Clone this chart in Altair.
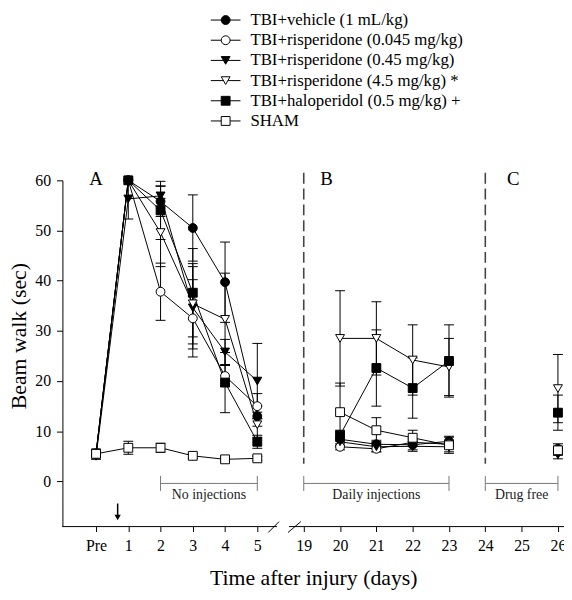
import altair as alt
import pandas as pd

# ---------------- data ----------------
series = [
    "TBI+vehicle (1 mL/kg)",
    "TBI+risperidone (0.045 mg/kg)",
    "TBI+risperidone (0.45 mg/kg)",
    "TBI+risperidone (4.5 mg/kg) *",
    "TBI+haloperidol  (0.5 mg/kg) +",
    "SHAM",
]
shapes = ["circle", "circle", "triangle-down", "triangle-down", "square", "square"]
fills = ["black", "white", "black", "white", "black", "white"]

days = ["Pre", "1", "2", "3", "4", "5", "20", "21", "22", "23", "26"]
tick_days = ["Pre", "1", "2", "3", "4", "5", "19", "20", "21", "22", "23", "24", "25", "26"]

vehicle_mean = [5.5, 60.0, 55.8, 50.5, 39.7, 13.0, 8.4, 7.4, 7.3, 8.0, 6.5]
vehicle_sem = [0.6, 0.0, 3.0, 6.6, 8.0, 2.0, 1.2, 0.8, 1.0, 1.0, 1.0]
ris0045_mean = [5.6, 60.0, 37.8, 32.5, 21.0, 15.0, 6.9, 6.5, 7.8, 7.4, 6.0]
ris0045_sem = [0.6, 0.0, 5.7, 7.7, 2.1, 2.5, 0.6, 0.6, 0.8, 0.8, 0.8]
ris045_mean = [5.0, 56.3, 56.9, 34.6, 25.8, 20.0, 7.9, 6.9, 7.0, 6.9, 5.3]
ris045_sem = [0.6, 4.0, 2.0, 8.2, 2.5, 7.5, 1.0, 1.0, 1.0, 1.0, 0.8]
ris45_mean = [5.5, 60.0, 49.6, 35.4, 32.3, 11.3, 28.5, 28.5, 24.2, 22.8, 18.5]
ris45_sem = [0.6, 0.0, 6.8, 8.0, 9.2, 2.5, 9.5, 7.3, 7.0, 5.7, 6.8]
halo_mean = [5.6, 60.0, 54.0, 37.6, 19.7, 7.9, 9.2, 22.6, 18.6, 24.0, 13.7]
halo_sem = [0.6, 0.0, 5.8, 8.8, 6.0, 1.3, 1.0, 7.6, 6.0, 7.2, 3.5]
sham_mean = [5.5, 6.7, 6.7, 5.1, 4.4, 4.6, 13.8, 10.2, 8.7, 7.2, 6.2]
sham_sem = [0.8, 1.3, 0.9, 0.5, 0.4, 0.4, 5.8, 2.5, 1.5, 1.6, 0.8]

means = [vehicle_mean, ris0045_mean, ris045_mean, ris45_mean, halo_mean, sham_mean]
sems = [vehicle_sem, ris0045_sem, ris045_sem, ris45_sem, halo_sem, sham_sem]

phase_labels = ["No injections", "Daily injections", "Drug free"]
phase_start = ["2", "19", "24"]
phase_end = ["5", "23", "26"]
panel_labels = ["A", "B", "C"]

# ---------------- layout helpers (broken axis) ----------------
SEG2_START = 6.44   # position of day 19
SEG2_STEP = 1.126   # width of one day in second segment


def pos(label):
    if label == "Pre":
        return 0.0
    d = int(label)
    if d <= 5:
        return float(d)
    return SEG2_START + (d - 19) * SEG2_STEP


def segment(label):
    if label == "Pre":
        return "A"
    d = int(label)
    return "A" if d <= 5 else ("B" if d <= 23 else "C")


X_MIN, X_MAX = -1.043, 14.51
Y_MIN, Y_MAX = -9, 60
W, H = 507, 350
PX_X = W / (X_MAX - X_MIN)
PX_Y = H / (Y_MAX - Y_MIN)


def px_to_x(off):  # offset in px from plot left
    return X_MIN + off / PX_X


def px_to_y(off):  # offset in px from plot top
    return Y_MAX - off / PX_Y


rows = []
for name, m_list, s_list in zip(series, means, sems):
    for d, m, s in zip(days, m_list, s_list):
        rows.append(dict(series=name, x=pos(d), y=m, lo=m - s, hi=m + s, err=s, seg=segment(d)))
df = pd.DataFrame(rows)
df_err = df[df.err > 0].copy()

label_expr = (
    "datum.value < 0.5 ? 'Pre' : datum.value < 5.5 ? format(datum.value, 'd') : "
    f"format(round((datum.value - {SEG2_START}) / {SEG2_STEP}) + 19, 'd')"
)

xs = alt.Scale(domain=[X_MIN, X_MAX], nice=False, zero=False)
ys = alt.Scale(domain=[Y_MIN, Y_MAX], nice=False, zero=False)
x_axis = alt.Axis(
    values=[pos(d) for d in tick_days], labelExpr=label_expr, domain=False, grid=False,
    tickSize=5, labelPadding=6, labelFontSize=16, titleFontSize=22, titlePadding=15,
    labelOverlap=False, labelFlush=False, title="Time after injury (days)",
)
y_axis = alt.Axis(
    values=[0, 10, 20, 30, 40, 50, 60], grid=False, tickSize=6, labelPadding=6,
    labelFontSize=16, titleFontSize=22, titlePadding=4, labelFlush=False,
    title="Beam walk (sec)", titleY=157,
)
X = alt.X("x:Q", scale=xs, axis=x_axis)
Y = alt.Y("y:Q", scale=ys, axis=y_axis)

shape_enc = alt.Shape("series:N", scale=alt.Scale(domain=series, range=shapes), legend=None)
fill_enc = alt.Fill("series:N", scale=alt.Scale(domain=series, range=fills), legend=None)

lines = alt.Chart(df).mark_line(color="black", strokeWidth=1).encode(
    x=X, y=Y, detail=["series:N", "seg:N"]
)
err_rule = alt.Chart(df_err).transform_calculate(y="datum.lo").mark_rule(
    color="black", strokeWidth=1
).encode(x=X, y=Y, y2="hi:Q")
cap_lo = alt.Chart(df_err).transform_calculate(y="datum.lo").mark_tick(
    orient="horizontal", size=10, thickness=1, color="black", opacity=1
).encode(x=X, y=Y)
cap_hi = alt.Chart(df_err).transform_calculate(y="datum.hi").mark_tick(
    orient="horizontal", size=10, thickness=1, color="black", opacity=1
).encode(x=X, y=Y)
points = alt.Chart(df).mark_point(
    filled=True, size=80, stroke="black", strokeWidth=1, opacity=1
).encode(x=X, y=Y, shape=shape_enc, fill=fill_enc)

# ---------------- legend (drawn above the plot) ----------------
leg_rows = []
for i, name in enumerate(series):
    yy = px_to_y(17 + 20.4 * i - 179)
    leg_rows.append(dict(series=name, y=yy, x=px_to_x(213 - 63), x2=px_to_x(243 - 63),
                         xm=px_to_x(228 - 63), xt=px_to_x(253 - 63)))
leg = pd.DataFrame(leg_rows)
leg_line = alt.Chart(leg).mark_rule(color="black", strokeWidth=1).encode(x=X, x2="x2:Q", y=Y)
leg_pt = alt.Chart(leg).transform_calculate(x="datum.xm").mark_point(
    filled=True, size=80, stroke="black", strokeWidth=1, opacity=1
).encode(x=X, y=Y, shape=shape_enc, fill=fill_enc)
leg_txt = alt.Chart(leg).transform_calculate(x="datum.xt").mark_text(
    align="left", baseline="middle", fontSize=17, font="Liberation Serif", color="black"
).encode(x=X, y=Y, text="series:N")

# ---------------- annotations ----------------
dash_df = pd.DataFrame(dict(x=[pos("19"), pos("24")], y=[61.5, 61.5], y2=[3.5, 3.5]))
dashes = alt.Chart(dash_df).mark_rule(color="#444", strokeWidth=1.6, strokeDash=[11, 5]).encode(
    x=X, y=Y, y2="y2:Q"
)

br = pd.DataFrame(dict(
    label=phase_labels,
    x=[pos(a) for a in phase_start],
    x2=[pos(b) for b in phase_end],
    y=[-0.4] * 3,
))
br["xc"] = (br.x + br.x2) / 2
br_h = alt.Chart(br).mark_rule(color="#777", strokeWidth=1).encode(x=X, x2="x2:Q", y=Y)
br_ends = pd.DataFrame(dict(
    x=list(br.x) + list(br.x2), y=[1.1] * 6, y2=[-1.9] * 6,
))
br_v = alt.Chart(br_ends).mark_rule(color="#777", strokeWidth=1).encode(x=X, y=Y, y2="y2:Q")
br_t = alt.Chart(br).transform_calculate(x="datum.xc", y="-2.8").mark_text(
    baseline="middle", fontSize=14, font="Liberation Serif", color="#222"
).encode(x=X, y=Y, text="label:N")

pl = pd.DataFrame(dict(label=panel_labels, x=[0.0, 7.15, 12.94], y=[60.2] * 3))
pl_t = alt.Chart(pl).mark_text(
    baseline="middle", fontSize=19, font="Liberation Serif", color="black"
).encode(x=X, y=Y, text="label:N")

# broken x axis line
ax_df = pd.DataFrame(dict(x=[X_MIN, px_to_x(292 - 63)], x2=[px_to_x(280 - 63), X_MAX], y=[Y_MIN, Y_MIN]))
ax_line = alt.Chart(ax_df).mark_rule(color="black", strokeWidth=1).encode(x=X, x2="x2:Q", y=Y)
sl_df = pd.DataFrame(dict(
    x=[px_to_x(271 - 63), px_to_x(291 - 63)],
    x2=[px_to_x(282 - 63), px_to_x(304 - 63)],
    y=[Y_MIN - 6 / PX_Y] * 2,
    y2=[Y_MIN + 5 / PX_Y] * 2,
))
slashes = alt.Chart(sl_df).mark_rule(color="black", strokeWidth=1).encode(
    x=X, x2="x2:Q", y=Y, y2="y2:Q"
)

arr_df = pd.DataFrame(dict(x=[0.67], y=[-4.4], y2=[-7.0], yh=[-7.2]))
arr_line = alt.Chart(arr_df).mark_rule(color="black", strokeWidth=1.5).encode(x=X, y=Y, y2="y2:Q")
arr_head = alt.Chart(arr_df).transform_calculate(y="datum.yh").mark_point(
    shape="triangle-down", filled=True, size=40, color="black", opacity=1
).encode(x=X, y=Y)

chart = alt.layer(
    dashes, br_h, br_v, br_t, pl_t, ax_line, slashes, arr_line, arr_head,
    lines, err_rule, cap_lo, cap_hi, points,
    leg_line, leg_pt, leg_txt,
).properties(
    width=W, height=H,
    autosize=alt.AutoSizeParams(type="none"),
    padding={"left": 55, "top": 171, "right": 0, "bottom": 68},
).configure_view(stroke=None).configure_axis(
    labelFont="Liberation Serif", titleFont="Liberation Serif", labelColor="black",
    titleColor="black", tickColor="black", domainColor="black", titleFontWeight="normal",
)

chart.save("out.html", embed_options={"renderer": "svg", "actions": False})
